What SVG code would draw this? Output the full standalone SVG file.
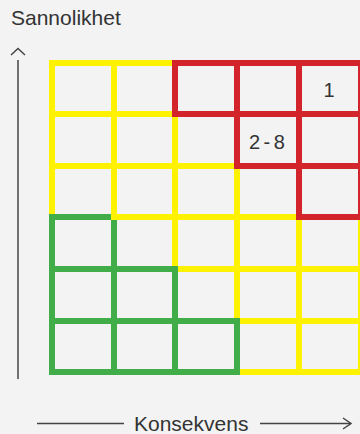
<svg xmlns="http://www.w3.org/2000/svg" width="360" height="434" viewBox="0 0 360 434">
  <style>
    .grid { fill: none; stroke-width: 6; stroke-linejoin: miter; }
    .yellow { stroke: #FFF200; }
    .red { stroke: #D3242B; }
    .green { stroke: #41AD49; }
    .axis { fill: none; stroke: #444; stroke-width: 1.5; }
    .label { font-family: "Liberation Sans", Arial, sans-serif; font-size: 21px; fill: #333; }
    .cell-text { font-family: "Liberation Sans", Arial, sans-serif; font-size: 20px; fill: #333; }
  </style>
  <rect width="360" height="434" fill="#F2F3F2"/>

  <g id="yellow-zone" class="grid yellow">
    <rect x="52" y="63" width="309" height="309"/>
    <path d="M114 63V372M175 63V372M237 63V372M299 63V372M52 114H361M52 166H361M52 217H361M52 269H361M52 321H361"/>
  </g>

  <g id="red-zone" class="grid red">
    <rect x="175" y="63" width="62" height="51"/>
    <rect x="237" y="63" width="62" height="51"/>
    <rect x="299" y="63" width="62" height="51"/>
    <rect x="237" y="114" width="62" height="52"/>
    <rect x="299" y="114" width="62" height="52"/>
    <rect x="299" y="166" width="62" height="51"/>
  </g>

  <g id="green-zone" class="grid green">
    <rect x="52" y="217" width="62" height="52"/>
    <rect x="52" y="269" width="62" height="52"/>
    <rect x="114" y="269" width="61" height="52"/>
    <rect x="52" y="321" width="62" height="51"/>
    <rect x="114" y="321" width="61" height="51"/>
    <rect x="175" y="321" width="62" height="51"/>
  </g>
  <path class="grid yellow" d="M111 217H178"/>

  <g id="cell-labels">
    <text class="cell-text" x="329" y="97" text-anchor="middle">1</text>
    <text class="cell-text" x="249" y="149" letter-spacing="3.5">2-8</text>
  </g>

  <g id="connectors">
    <path class="axis" d="M18 60V379"/>
    <path class="axis" d="M11 55L18 48.5L25 55"/>
    <path class="axis" d="M37 423.5H124M260 423.5H351"/>
    <path class="axis" d="M343 418L351 423.5L343 429"/>
  </g>

  <g id="axis-labels">
    <text class="label" x="11" y="25">Sannolikhet</text>
    <text class="label" x="134" y="431">Konsekvens</text>
  </g>
</svg>
